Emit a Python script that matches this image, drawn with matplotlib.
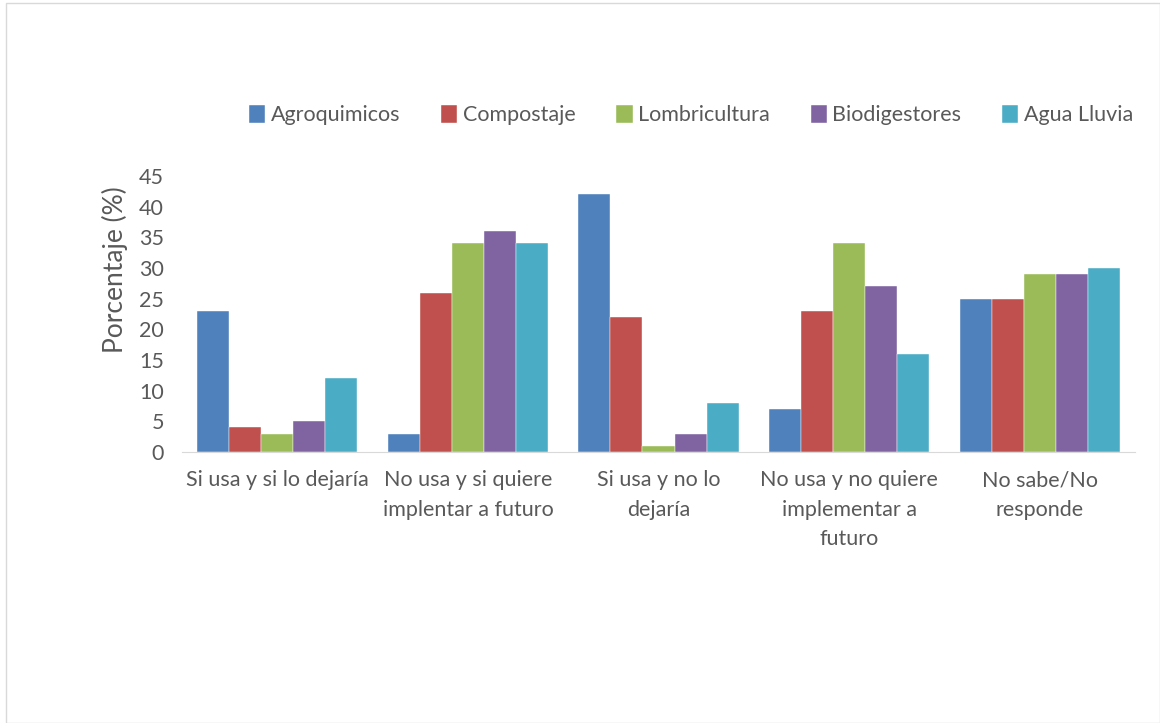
import numpy as np
import matplotlib.pyplot as plt
from matplotlib.patches import Rectangle

plt.rcParams['font.family'] = ['Lato', 'DejaVu Sans']

categorias = ['Si usa y si lo dejaría',
              'No usa y si quiere\nimplentar a futuro',
              'Si usa y no lo\ndejaría',
              'No usa y no quiere\nimplementar a\nfuturo',
              'No sabe/No\nresponde']
series = ['Agroquimicos', 'Compostaje', 'Lombricultura', 'Biodigestores', 'Agua Lluvia']
agroquimicos = [23, 3, 42, 7, 25]
compostaje = [4, 26, 22, 23, 25]
lombricultura = [3, 34, 1, 34, 29]
biodigestores = [5, 36, 3, 27, 29]
agua_lluvia = [12, 34, 8, 16, 30]
colores = ['#4F81BD', '#C0504D', '#9BBB59', '#8064A2', '#4BACC6']

valores = [agroquimicos, compostaje, lombricultura, biodigestores, agua_lluvia]
gris = '#595959'

fig = plt.figure(figsize=(11.6, 7.23), dpi=100)
ax = fig.add_axes([182 / 1160, 1 - 452 / 723, (1135 - 182) / 1160, (452 - 176) / 723])

# borde fino alrededor de la figura
fig.patches.append(Rectangle((6 / 1160, 0.0), 1 - 6 / 1160, 1 - 3 / 723,
                             transform=fig.transFigure, fill=False,
                             edgecolor='#D9D9D9', linewidth=1))

x = np.arange(len(categorias))
ancho = 0.168
for i, (nombre, vals) in enumerate(zip(series, valores)):
    ax.bar(x + (i - 2) * ancho, vals, ancho, color=colores[i], label=nombre,
           edgecolor='white', linewidth=0.3)

ax.set_xlim(-0.5, len(categorias) - 0.5)
ax.set_ylim(0, 45)
ax.set_yticks(range(0, 46, 5))
ax.set_xticks(x)
ax.set_xticklabels(categorias, fontsize=15.5, color=gris, linespacing=1.6,
                   va='top')
ax.tick_params(axis='both', length=0, labelsize=15.5, labelcolor=gris)
ax.tick_params(axis='y', pad=13)
ax.tick_params(axis='x', pad=13)
ax.set_ylabel('Porcentaje (%)', fontsize=19, color=gris)
ax.yaxis.set_label_coords(-0.057, 0.66)

for lado in ['top', 'right', 'left']:
    ax.spines[lado].set_visible(False)
ax.spines['bottom'].set_color('#D9D9D9')

ax.legend(loc='lower right', bbox_to_anchor=(1.018, 1.114), ncol=5, frameon=False,
          fontsize=15.5, labelcolor=gris, handlelength=0.75, handleheight=0.9,
          handletextpad=0.25, columnspacing=1.9)

fig.savefig('out.png', dpi=100)
